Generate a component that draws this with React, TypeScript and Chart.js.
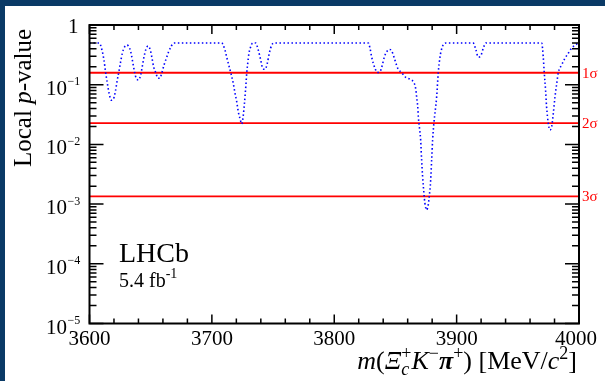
import { useEffect, useRef } from "react";
import { Chart, registerables } from "chart.js";

Chart.register(...registerables);

// Scanned mass points [MeV/c^2] and the local p-value at each
const massValues = [
  3600, 3608, 3610.2, 3611.8, 3613.2, 3614.6, 3616, 3617.8, 3619.2, 3621.1,
  3622.7, 3623.9, 3625.2, 3626.8, 3628.7, 3630.6, 3632.8, 3634.2, 3635.5, 3636.9,
  3638.2, 3640.2, 3641.8, 3643.1, 3644.5, 3645.9, 3647.8, 3649.7, 3651.1, 3652.4,
  3654.1, 3656, 3657.4, 3659.2, 3660.9, 3662.8, 3664.7, 3666.9, 3669, 3708,
  3710.7, 3712.1, 3713.4, 3715.4, 3717.5, 3718.9, 3720.3, 3721.6, 3723, 3724.4,
  3725.7, 3726.5, 3727.3, 3727.9, 3728.5, 3729.3, 3730.3, 3731.7, 3733.3, 3735.8,
  3737.9, 3739.9, 3741.5, 3743.4, 3745.3, 3746.9, 3748.9, 3750.8, 3827.8, 3829.2,
  3830.6, 3831.9, 3833.3, 3835.2, 3837.4, 3839.3, 3840.9, 3842.9, 3845, 3846.9,
  3848.8, 3850.4, 3852.3, 3855.1, 3857.8, 3861.9, 3864.6, 3866.5, 3867.3, 3868.2,
  3868.7, 3869.5, 3870.6, 3871.4, 3872.2, 3873.3, 3874.1, 3875.5, 3876.8, 3877.6,
  3878.8, 3879.6, 3880.4, 3881.4, 3883.7, 3885, 3886.4, 3888.3, 3891.3, 3913.6,
  3915.8, 3917.7, 3919.6, 3921.8, 3924, 3969.5, 3970.8, 3971.6, 3972.7, 3973.5,
  3974.9, 3976.3, 3977.7, 3979, 3980.4, 3981.8, 3983.1, 3985.8, 3988.5, 3991.2,
  3994, 3996.7, 4000,
];

const pValues = [
  0.5, 0.5, 0.38, 0.26, 0.16, 0.105, 0.072, 0.055, 0.056, 0.076,
  0.12, 0.16, 0.228, 0.336, 0.43, 0.46, 0.41, 0.32, 0.228, 0.16,
  0.128, 0.12, 0.145, 0.2, 0.29, 0.38, 0.445, 0.38, 0.277, 0.2,
  0.16, 0.128, 0.128, 0.16, 0.214, 0.277, 0.357, 0.445, 0.5, 0.5,
  0.38, 0.29, 0.228, 0.16, 0.105, 0.072, 0.052, 0.035, 0.027, 0.022,
  0.031, 0.046, 0.072, 0.105, 0.16, 0.228, 0.336, 0.43, 0.5, 0.5,
  0.38, 0.26, 0.188, 0.181, 0.228, 0.336, 0.46, 0.5, 0.5, 0.41,
  0.29, 0.228, 0.188, 0.16, 0.165, 0.214, 0.29, 0.357, 0.39, 0.37,
  0.29, 0.228, 0.181, 0.16, 0.136, 0.123, 0.112, 0.087, 0.063, 0.043,
  0.029, 0.02, 0.0119, 0.0055, 0.0029, 0.0015, 0.00103, 0.0008, 0.00097, 0.00133,
  0.0025, 0.0055, 0.0119, 0.0225, 0.063, 0.16, 0.29, 0.43, 0.5, 0.5,
  0.38, 0.29, 0.3, 0.41, 0.5, 0.5, 0.29, 0.16, 0.081, 0.043,
  0.0225, 0.0174, 0.02, 0.033, 0.063, 0.105, 0.16, 0.214, 0.277, 0.336,
  0.41, 0.46, 0.5,
];

// One-sided p-values of the 1, 2 and 3 sigma reference lines
const sigmaLabels = ["1", "2", "3"];
const sigmaPValues = [0.158655, 0.02275, 0.0013499];

const xMin = 3600;
const xMax = 4000;
const xMajorTicks = [3600, 3700, 3800, 3900, 4000];
const xTickLabels = ["3600", "3700", "3800", "3900", "4000"];
const yExponents = [0, -1, -2, -3, -4, -5];

const SERIF = '"Liberation Serif", "Times New Roman", Times, serif';
const FRAME_BLUE = "#0a3a66";

type Run = { text: string; font: string; dy?: number; stackNext?: boolean };

// Width of a sequence of text runs; a run flagged stackNext shares its x with the next run
function runsWidth(ctx: CanvasRenderingContext2D, runs: Run[]) {
  let w = 0;
  let i = 0;
  while (i < runs.length) {
    const r = runs[i];
    ctx.font = r.font;
    if (r.stackNext && i + 1 < runs.length) {
      const w1 = ctx.measureText(r.text).width;
      ctx.font = runs[i + 1].font;
      const w2 = ctx.measureText(runs[i + 1].text).width;
      w += Math.max(w1, w2);
      i += 2;
    } else {
      w += ctx.measureText(r.text).width;
      i += 1;
    }
  }
  return w;
}

function drawRuns(ctx: CanvasRenderingContext2D, runs: Run[], x: number, y: number) {
  let cx = x;
  let i = 0;
  ctx.textAlign = "left";
  ctx.textBaseline = "alphabetic";
  while (i < runs.length) {
    const r = runs[i];
    ctx.font = r.font;
    ctx.fillText(r.text, cx, y + (r.dy || 0));
    const w1 = ctx.measureText(r.text).width;
    if (r.stackNext && i + 1 < runs.length) {
      const n = runs[i + 1];
      ctx.font = n.font;
      ctx.fillText(n.text, cx, y + (n.dy || 0));
      const w2 = ctx.measureText(n.text).width;
      cx += Math.max(w1, w2);
      i += 2;
    } else {
      cx += w1;
      i += 1;
    }
  }
}

const framePlugin = {
  id: "lhcbFrame",
  beforeDraw(chart: any) {
    const { ctx, width, height } = chart;
    ctx.save();
    ctx.fillStyle = "#ffffff";
    ctx.fillRect(0, 0, width, height);
    ctx.fillStyle = FRAME_BLUE;
    ctx.fillRect(0, 0, width, 6);
    ctx.fillRect(0, 0, 5, height);
    ctx.restore();
  },
  afterDraw(chart: any) {
    const { ctx, chartArea: a, scales } = chart;
    const xs = scales.x;
    const ys = scales.y;
    ctx.save();

    // axis ticks, pointing into the frame on all four sides
    ctx.strokeStyle = "#000";
    ctx.lineWidth = 1.5;
    ctx.beginPath();
    for (let v = xMin; v <= xMax; v += 20) {
      const px = xs.getPixelForValue(v);
      const len = xMajorTicks.includes(v) ? 9 : 5;
      ctx.moveTo(px, a.bottom);
      ctx.lineTo(px, a.bottom - len);
      ctx.moveTo(px, a.top);
      ctx.lineTo(px, a.top + len);
    }
    for (const e of yExponents) {
      const py = ys.getPixelForValue(Math.pow(10, e));
      ctx.moveTo(a.left, py);
      ctx.lineTo(a.left + 14, py);
      ctx.moveTo(a.right, py);
      ctx.lineTo(a.right - 14, py);
      if (e > -5) {
        for (let k = 2; k <= 9; k++) {
          const my = ys.getPixelForValue(k * Math.pow(10, e - 1));
          ctx.moveTo(a.left, my);
          ctx.lineTo(a.left + 7, my);
          ctx.moveTo(a.right, my);
          ctx.lineTo(a.right - 7, my);
        }
      }
    }
    ctx.stroke();

    // frame
    ctx.lineWidth = 2;
    ctx.strokeRect(a.left, a.top, a.right - a.left, a.bottom - a.top);

    ctx.fillStyle = "#000";
    // x tick labels
    ctx.font = `21px ${SERIF}`;
    ctx.textAlign = "center";
    ctx.textBaseline = "alphabetic";
    xMajorTicks.forEach((v, i) => {
      const px = xs.getPixelForValue(v);
      ctx.fillText(xTickLabels[i], px - (i === xMajorTicks.length - 1 ? 3 : 0), a.bottom + 21);
    });

    // y tick labels as powers of ten
    for (const e of yExponents) {
      const py = ys.getPixelForValue(Math.pow(10, e));
      if (e === 0) {
        ctx.font = `21px ${SERIF}`;
        ctx.textAlign = "right";
        ctx.fillText("1", a.left - 11, py + 8);
      } else {
        ctx.font = `21px ${SERIF}`;
        ctx.textAlign = "right";
        ctx.fillText("10", a.left - 22.5, py + 10);
        ctx.font = `12px ${SERIF}`;
        ctx.textAlign = "left";
        ctx.fillText(`\u2212${-e}`, a.left - 22, py + 0.5);
      }
    }

    // sigma labels
    ctx.fillStyle = "#ff0000";
    ctx.font = `15px ${SERIF}`;
    ctx.textAlign = "left";
    ctx.textBaseline = "middle";
    sigmaPValues.forEach((p, i) => {
      const py = ys.getPixelForValue(p);
      ctx.fillText(`${sigmaLabels[i]}\u03C3`, a.right + 3, py + 1);
    });

    // axis titles
    ctx.fillStyle = "#000";
    const big = `26px ${SERIF}`;
    const bigIt = `italic 26px ${SERIF}`;
    const small = `18px ${SERIF}`;
    const smallIt = `italic 18px ${SERIF}`;
    const xTitle: Run[] = [
      { text: "m", font: bigIt },
      { text: "(", font: big },
      { text: "\u039E", font: bigIt },
      { text: "c", font: smallIt, dy: 6, stackNext: true },
      { text: "+", font: small, dy: -10.5 },
      { text: "K", font: bigIt },
      { text: "\u2212", font: small, dy: -10.5 },
      { text: "\u03C0", font: `italic bold 26px ${SERIF}` },
      { text: "+", font: small, dy: -10.5 },
      { text: ") [MeV/", font: big },
      { text: "c", font: bigIt },
      { text: "2", font: small, dy: -10.5 },
      { text: "]", font: big },
    ];
    const tw = runsWidth(ctx, xTitle);
    drawRuns(ctx, xTitle, a.right - 2 - tw, a.bottom + 45.5);

    ctx.save();
    ctx.translate(30.5, 167);
    ctx.rotate(-Math.PI / 2);
    drawRuns(
      ctx,
      [
        { text: "Local ", font: `25px ${SERIF}` },
        { text: "p", font: `italic 25px ${SERIF}` },
        { text: "-value", font: `25px ${SERIF}` },
      ],
      0,
      0
    );
    ctx.restore();

    // experiment label
    drawRuns(ctx, [{ text: "LHCb", font: `28px ${SERIF}` }], 119, 262);
    drawRuns(
      ctx,
      [
        { text: "5.4 fb", font: `20px ${SERIF}` },
        { text: "-1", font: `14px ${SERIF}`, dy: -9 },
      ],
      119,
      287
    );

    ctx.restore();
  },
};

export default function App() {
  const canvasRef = useRef<HTMLCanvasElement | null>(null);

  useEffect(() => {
    const canvas = canvasRef.current;
    if (!canvas) return;

    const curve = massValues.map((m, i) => ({ x: m, y: pValues[i] }));
    const sigmaSets = sigmaPValues.map((p, i) => ({
      label: `${sigmaLabels[i]} sigma`,
      data: [
        { x: xMin, y: p },
        { x: xMax, y: p },
      ],
      borderColor: "#ff0000",
      borderWidth: 1.8,
      pointRadius: 0,
      order: 1,
    }));

    const chart = new Chart(canvas, {
      type: "line",
      data: {
        datasets: [
          {
            label: "Local p-value",
            data: curve,
            borderColor: "#0000ff",
            borderWidth: 1.6,
            borderDash: [1.5, 2.5],
            pointRadius: 0,
            cubicInterpolationMode: "monotone",
            order: 0,
          },
          ...sigmaSets,
        ],
      },
      options: {
        responsive: false,
        animation: false,
        events: [],
        layout: { padding: { left: 89.5, top: 25, right: 26, bottom: 57.5 } },
        plugins: {
          legend: { display: false },
          tooltip: { enabled: false },
          title: { display: false },
        },
        scales: {
          x: { type: "linear", min: xMin, max: xMax, display: false },
          y: { type: "logarithmic", min: 1e-5, max: 1, display: false },
        },
      },
      plugins: [framePlugin],
    } as any);

    return () => chart.destroy();
  }, []);

  return (
    <div
      style={{
        position: "fixed",
        left: 0,
        top: 0,
        width: 605,
        height: 381,
        background: "#ffffff",
      }}
    >
      <canvas
        ref={canvasRef}
        width={605}
        height={381}
        style={{ display: "block", width: 605, height: 381 }}
      />
    </div>
  );
}
